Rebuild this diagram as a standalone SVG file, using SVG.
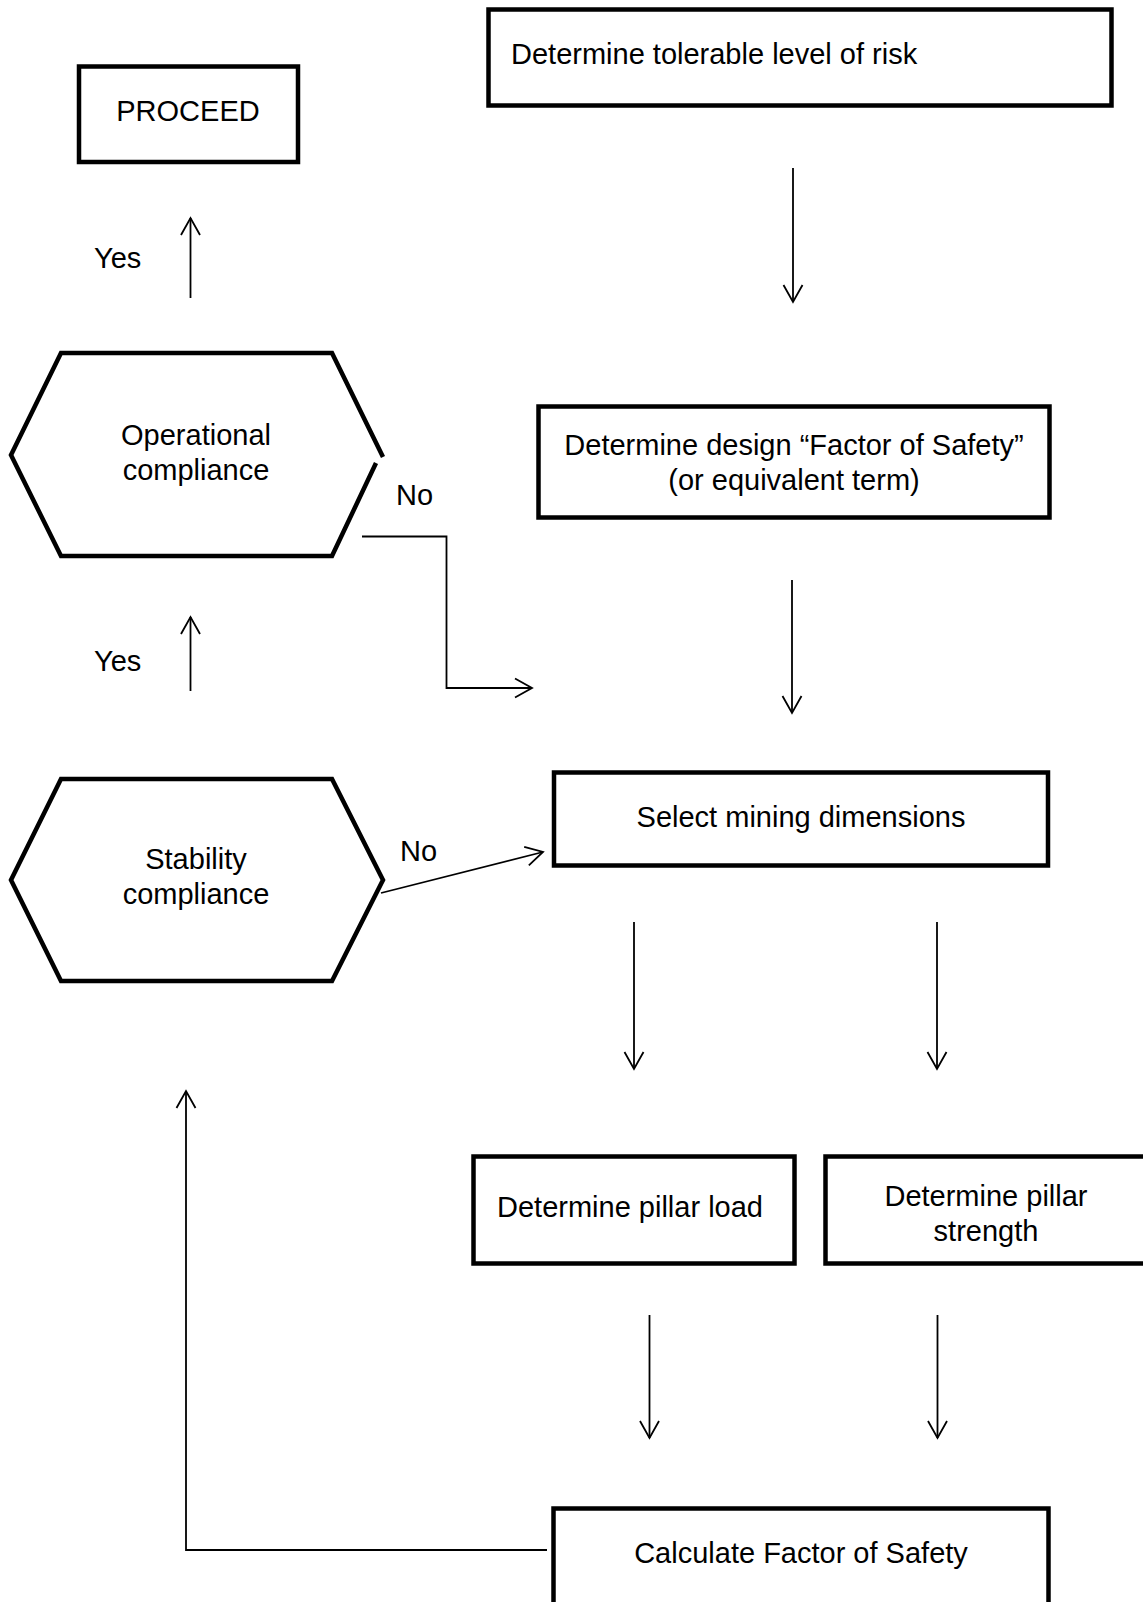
<svg xmlns="http://www.w3.org/2000/svg" width="1143" height="1602" viewBox="0 0 1143 1602">
<style>
.box{fill:#fff;stroke:#000;stroke-width:4.5;stroke-linejoin:miter}
.t{font-family:"Liberation Sans",Arial,sans-serif;font-size:29px;fill:#000}
.c{text-anchor:middle}
.ln{fill:none;stroke:#000;stroke-width:1.8}
</style>
<defs>
<marker id="ah" markerUnits="userSpaceOnUse" markerWidth="24" markerHeight="24" viewBox="-20 -12 24 24" refX="0" refY="0" orient="auto">
<path d="M-17,-9.5 L0,0 L-17,9.5" fill="none" stroke="#000" stroke-width="1.8"/>
</marker>
</defs>
<rect width="1143" height="1602" fill="#fff"/>

<g id="proceed">
<rect class="box" x="79" y="66.5" width="219" height="95.5"/>
<text class="t c" x="188" y="121">PROCEED</text>
</g>

<g id="tolerable-risk">
<rect class="box" x="488.5" y="9.5" width="623" height="96"/>
<text class="t" x="511" y="64">Determine tolerable level of risk</text>
</g>

<g id="operational-compliance">
<polyline class="box" points="383,457 332,353 61,353 11,455 61,556 332,556 376,463"/>
<text class="t c" x="196" y="445">Operational</text>
<text class="t c" x="196" y="480">compliance</text>
</g>

<g id="design-fos">
<rect class="box" x="538.5" y="406.5" width="511" height="111"/>
<text class="t c" x="794" y="455">Determine design “Factor of Safety”</text>
<text class="t c" x="794" y="490">(or equivalent term)</text>
</g>

<g id="stability-compliance">
<polygon class="box" points="61,779 332,779 383,880 332,981 61,981 11,880"/>
<text class="t c" x="196" y="869">Stability</text>
<text class="t c" x="196" y="904">compliance</text>
</g>

<g id="select-dimensions">
<rect class="box" x="554" y="772.5" width="494" height="93"/>
<text class="t c" x="801" y="827">Select mining dimensions</text>
</g>

<g id="pillar-load">
<rect class="box" x="473.5" y="1156.5" width="321" height="107"/>
<text class="t c" x="630" y="1217">Determine pillar load</text>
</g>

<g id="pillar-strength">
<rect class="box" x="825.5" y="1156.5" width="340" height="107"/>
<text class="t c" x="986" y="1206">Determine pillar</text>
<text class="t c" x="986" y="1241">strength</text>
</g>

<g id="calculate-fos">
<rect class="box" x="553.5" y="1508.5" width="495" height="120"/>
<text class="t c" x="801" y="1563">Calculate Factor of Safety</text>
</g>

<g id="labels">
<text class="t" x="94" y="268">Yes</text>
<text class="t" x="94" y="671">Yes</text>
<text class="t" x="396" y="505">No</text>
<text class="t" x="400" y="861">No</text>
</g>

<g id="connectors">
<line class="ln" x1="793" y1="168" x2="793" y2="302" marker-end="url(#ah)"/>
<line class="ln" x1="792" y1="580" x2="792" y2="713" marker-end="url(#ah)"/>
<line class="ln" x1="190.5" y1="298" x2="190.5" y2="218" marker-end="url(#ah)"/>
<line class="ln" x1="190.5" y1="691" x2="190.5" y2="617" marker-end="url(#ah)"/>
<polyline class="ln" points="362,536.5 446.5,536.5 446.5,688 532,688" marker-end="url(#ah)"/>
<line class="ln" x1="381" y1="893" x2="543" y2="852" marker-end="url(#ah)"/>
<line class="ln" x1="634" y1="922" x2="634" y2="1069" marker-end="url(#ah)"/>
<line class="ln" x1="937" y1="922" x2="937" y2="1069" marker-end="url(#ah)"/>
<line class="ln" x1="649.5" y1="1315" x2="649.5" y2="1438" marker-end="url(#ah)"/>
<line class="ln" x1="937.5" y1="1315" x2="937.5" y2="1438" marker-end="url(#ah)"/>
<polyline class="ln" points="547,1550 186,1550 186,1091" marker-end="url(#ah)"/>
</g>
</svg>
